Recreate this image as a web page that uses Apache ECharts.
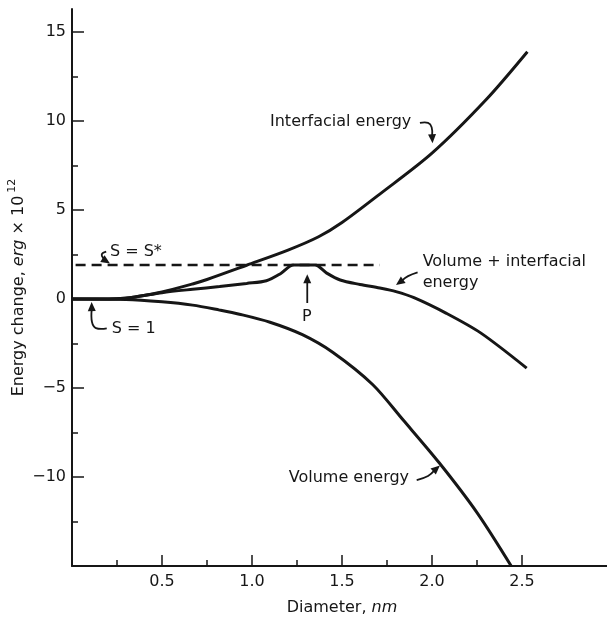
<!DOCTYPE html>
<html>
<head>
<meta charset="utf-8">
<script src="https://cdn.jsdelivr.net/npm/echarts@6/dist/echarts.min.js"></script>
<style>
  html, body { margin: 0; padding: 0; background: #fff; }
  #chart { width: 607px; height: 620px; }
</style>
</head>
<body>
<div id="chart"></div>
<script>
// values (diameter in nm, energy in erg x 10^12)
const interfacialX = [0, 0.25, 0.35, 0.5, 0.67, 0.75, 0.97, 1.2, 1.37, 1.5, 1.71, 2.0, 2.3, 2.53];
const interfacialY = [0, 0.02, 0.12, 0.4, 0.85, 1.1, 1.9, 2.75, 3.5, 4.3, 5.9, 8.2, 11.2, 13.9];

const totalX = [0, 0.25, 0.35, 0.5, 0.67, 0.82, 0.97, 1.08, 1.16, 1.23, 1.35, 1.415, 1.49, 1.6, 1.71, 1.8, 1.9, 2.08, 2.27, 2.526];
const totalY = [0, 0.02, 0.12, 0.36, 0.55, 0.7, 0.88, 1.03, 1.44, 1.91, 1.91, 1.46, 1.07, 0.82, 0.62, 0.42, 0.08, -0.8, -1.9, -3.88];

const volumeX = [0, 0.3, 0.5, 0.67, 0.82, 0.93, 1.1, 1.28, 1.45, 1.67, 1.84, 2.04, 2.25, 2.44];
const volumeY = [0, -0.02, -0.15, -0.34, -0.62, -0.85, -1.3, -2.0, -3.0, -4.8, -6.8, -9.2, -12.0, -15.0];

const criticalX = [0.02, 1.71];
const criticalY = [1.92, 1.92];

const xMajorTicks = [0.5, 1.0, 1.5, 2.0, 2.5];
const xMinorTicks = [0.25, 0.75, 1.25, 1.75, 2.25];
const yMajorTicks = [-10, -5, 0, 5, 10, 15];
const yMinorTicks = [-12.5, -7.5, -2.5, 2.5, 7.5, 12.5];

// label text, anchor and arrow path, all in data units
const annotations = [
  { text: 'Interfacial energy', at: [1.1, 9.94], arrow: [[1.933, 9.9], [1.978, 9.9], [1.998, 9.66], [2.003, 8.76]] },
  { text: 'Volume + interfacial\nenergy', at: [1.948, 2.68], valign: 'top', arrow: [[1.92, 1.5], [1.867, 1.29], [1.8, 0.79]] },
  { text: 'S = S*', at: [0.211, 2.66], arrow: [[0.19, 2.66], [0.165, 2.5], [0.18, 2.2], [0.211, 2.0]] },
  { text: 'P', at: [1.304, -1.01], align: 'center', arrow: [[1.307, -0.22], [1.307, 1.4]] },
  { text: 'S = 1', at: [0.221, -1.65], arrow: [[0.193, -1.65], [0.133, -1.63], [0.111, -1.29], [0.109, -0.17]] },
  { text: 'Volume energy', at: [1.204, -10.07], arrow: [[1.915, -10.17], [1.978, -9.94], [2.044, -9.35]] }
];

const ink = '#161616';
const font = '"DejaVu Sans", sans-serif';

function pairs(xs, ys) {
  return xs.map((x, i) => [x, ys[i]]);
}

function curve(name, xs, ys) {
  return {
    name: name,
    type: 'line',
    data: pairs(xs, ys),
    showSymbol: false,
    smooth: 0.3,
    lineStyle: { color: ink, width: 3 },
    silent: true
  };
}

const chart = echarts.init(document.getElementById('chart'));

chart.setOption({
  animation: false,
  backgroundColor: '#fff',
  grid: { left: 72, right: -5, top: 9, bottom: 54, outerBoundsMode: 'none' },
  xAxis: [
    {
      type: 'value',
      min: 0,
      max: 3,
      name: '{a|Diameter, }{i|nm}',
      nameLocation: 'middle',
      nameGap: 33,
      nameTextStyle: {
        rich: {
          a: { fontFamily: font, fontSize: 16, color: ink, lineHeight: 18 },
          i: { fontFamily: font, fontSize: 16, color: ink, fontStyle: 'italic', lineHeight: 18 }
        }
      },
      axisLine: { onZero: false, lineStyle: { color: ink, width: 2 } },
      axisTick: { inside: true, length: 11, customValues: xMajorTicks, lineStyle: { color: ink, width: 1.5 } },
      axisLabel: { customValues: xMajorTicks, margin: 8, color: ink, fontFamily: font, fontSize: 16, formatter: (v) => v.toFixed(1) },
      splitLine: { show: false }
    },
    {
      // minor ticks only
      type: 'value',
      min: 0,
      max: 3,
      position: 'bottom',
      axisLine: { show: false, onZero: false },
      axisTick: { show: true, inside: true, length: 6, customValues: xMinorTicks, lineStyle: { color: ink, width: 1.5 } },
      axisLabel: { show: false },
      splitLine: { show: false }
    }
  ],
  yAxis: [
    {
      type: 'value',
      min: -15,
      max: 16.3,
      position: 'left',
      name: '{a|Energy change, }{i|erg}{a| \u00d7 10}{s|12}',
      nameLocation: 'middle',
      nameRotate: 90,
      nameGap: 41,
      nameMoveOverlap: false,
      nameTextStyle: {
        rich: {
          a: { fontFamily: font, fontSize: 16, color: ink, lineHeight: 24 },
          i: { fontFamily: font, fontSize: 16, color: ink, fontStyle: 'italic', lineHeight: 24 },
          s: { fontFamily: font, fontSize: 11, color: ink, lineHeight: 14, verticalAlign: 'top', padding: [0, 0, 0, 3] }
        }
      },
      axisLine: { show: true, onZero: false, lineStyle: { color: ink, width: 2 } },
      axisTick: { show: true, inside: true, length: 12, customValues: yMajorTicks, lineStyle: { color: ink, width: 1.5 } },
      axisLabel: {
        customValues: yMajorTicks,
        margin: 6,
        color: ink,
        fontFamily: font,
        fontSize: 16,
        formatter: (v) => (v < 0 ? '\u2212' + Math.abs(v) : String(v))
      },
      splitLine: { show: false }
    },
    {
      // minor ticks only
      type: 'value',
      min: -15,
      max: 16.3,
      position: 'left',
      axisLine: { show: false, onZero: false },
      axisTick: { show: true, inside: true, length: 6, customValues: yMinorTicks, lineStyle: { color: ink, width: 1.5 } },
      axisLabel: { show: false },
      splitLine: { show: false }
    }
  ],
  series: [
    curve('Interfacial energy', interfacialX, interfacialY),
    curve('Volume + interfacial energy', totalX, totalY),
    curve('Volume energy', volumeX, volumeY),
    {
      name: 'S = S*',
      type: 'line',
      data: pairs(criticalX, criticalY),
      showSymbol: false,
      lineStyle: { color: ink, width: 2.5, type: [10, 6] },
      silent: true
    }
  ]
});

function arrowShapes(points) {
  const px = points.map((p) => chart.convertToPixel({ gridIndex: 0 }, p));
  const tip = px[px.length - 1];
  const prev = px[px.length - 2];
  const dx = tip[0] - prev[0];
  const dy = tip[1] - prev[1];
  const len = Math.hypot(dx, dy) || 1;
  const ux = dx / len, uy = dy / len;
  const headLen = 9, headHalf = 4;
  const bx = tip[0] - ux * headLen, by = tip[1] - uy * headLen;
  const shaft = px.slice(0, -1).concat([[bx + ux * 2, by + uy * 2]]);
  return [
    {
      type: 'polyline',
      shape: { points: shaft, smooth: shaft.length > 2 ? 0.4 : 0 },
      style: { stroke: ink, lineWidth: 1.8, fill: null },
      silent: true
    },
    {
      type: 'polygon',
      shape: { points: [tip, [bx - uy * headHalf, by + ux * headHalf], [bx + uy * headHalf, by - ux * headHalf]] },
      style: { fill: ink },
      silent: true
    }
  ];
}

function buildGraphics() {
  const elements = [];
  annotations.forEach((a) => {
    const p = chart.convertToPixel({ gridIndex: 0 }, a.at);
    elements.push({
      type: 'text',
      x: p[0],
      y: p[1],
      silent: true,
      style: {
        text: a.text,
        fill: ink,
        fontFamily: font,
        fontSize: 16,
        lineHeight: 21,
        align: a.align || 'left',
        verticalAlign: a.valign || 'middle'
      }
    });
    arrowShapes(a.arrow).forEach((el) => elements.push(el));
  });
  chart.setOption({ graphic: { elements: elements } });
}

buildGraphics();
</script>
</body>
</html>
